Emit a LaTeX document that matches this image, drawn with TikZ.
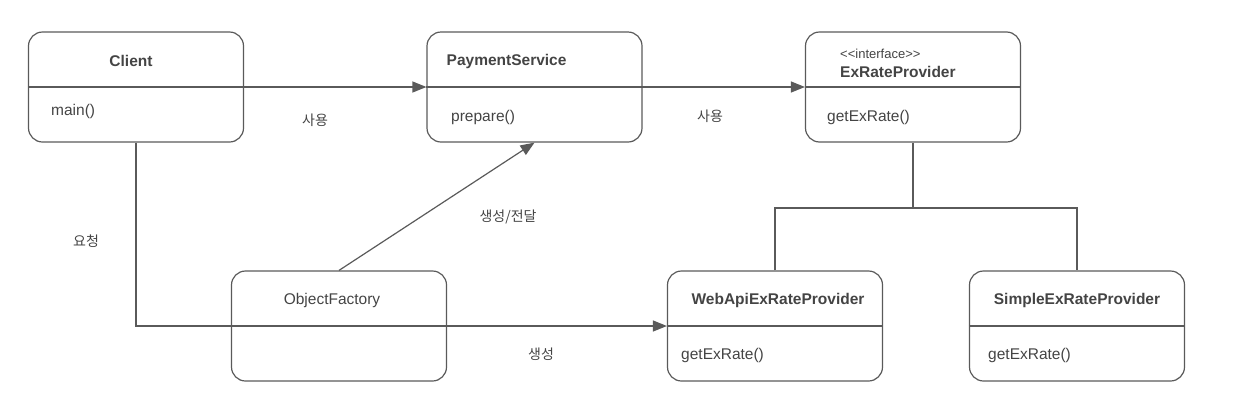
\documentclass[tikz,border=0pt]{standalone}
\usepackage{fontspec}
\setmainfont{Liberation Sans}
\newfontfamily\kr{Noto Sans CJK KR}
\usetikzlibrary{arrows.meta}
\definecolor{linegray}{HTML}{5A5A5A}
\definecolor{textgray}{HTML}{444444}
\begin{document}
\begin{tikzpicture}[x=1pt, y=-1pt,
    link/.style={draw=linegray, line width=1.2pt},
    box/.style={link, rounded corners=14pt, minimum width=215pt, minimum height=110pt},
    lbl/.style={text=textgray, inner sep=0pt, font=\fontsize{15.5}{18}\selectfont},
    ttl/.style={lbl, font=\fontsize{15.5}{18}\selectfont\bfseries},
    stereo/.style={lbl, font=\fontsize{13}{15}\selectfont},
    kor/.style={text=textgray, inner sep=0pt, font=\fontsize{14}{17}\selectfont\kr},
    uses/.style={link, -{Triangle[length=14pt, width=11pt]}}]
  \useasboundingbox (0,0) rectangle (1249,413);
  % class boxes
  \node (client) [box] at (136, 87) {};
  \node (payment) [box] at (534.5, 87) {};
  \node (exrate) [box] at (913, 87) {};
  \node (factory) [box] at (339, 326) {};
  \node (webapi) [box] at (775, 326) {};
  \node (simple) [box] at (1077, 326) {};
  \foreach \n in {client, payment, exrate, webapi, simple}
    \draw [link] (\n.west) -- (\n.east);
  % texts
  \node [ttl] at (131, 61) {Client};
  \node [lbl, anchor=west] at (51, 111) {main()};
  \node [ttl, anchor=west] at (446.5, 61) {PaymentService};
  \node [lbl, anchor=west] at (451, 117) {prepare()};
  \node [stereo, anchor=west] at (840, 54) {<{}<interface>{}>};
  \node [ttl, anchor=west] at (840, 72) {ExRateProvider};
  \node [lbl, anchor=west] at (827, 117) {getExRate()};
  \node [lbl] at (332, 300) {ObjectFactory};
  \node [ttl] at (778, 300) {WebApiExRateProvider};
  \node [lbl, anchor=west] at (681, 355) {getExRate()};
  \node [ttl] at (1077, 300) {SimpleExRateProvider};
  \node [lbl, anchor=west] at (988, 355) {getExRate()};
  % connectors
  \draw [uses] (client.east) -- (payment.west);
  \draw [uses] (payment.east) -- (exrate.west);
  \draw [uses] (client.south) |- (webapi.west);
  \draw [uses] (factory.north) -- (payment.south);
  \coordinate (fork) at (913, 208);
  \draw [link] (exrate.south) -- (fork);
  \draw [link] (webapi.north) |- (fork) -| (simple.north);
  \node [kor] at (315, 120) {사용};
  \node [kor] at (710, 116) {사용};
  \node [kor] at (86, 241) {요청};
  \node [kor] at (508, 217) {생성/전달};
  \node [kor] at (541, 354) {생성};
\end{tikzpicture}
\end{document}
